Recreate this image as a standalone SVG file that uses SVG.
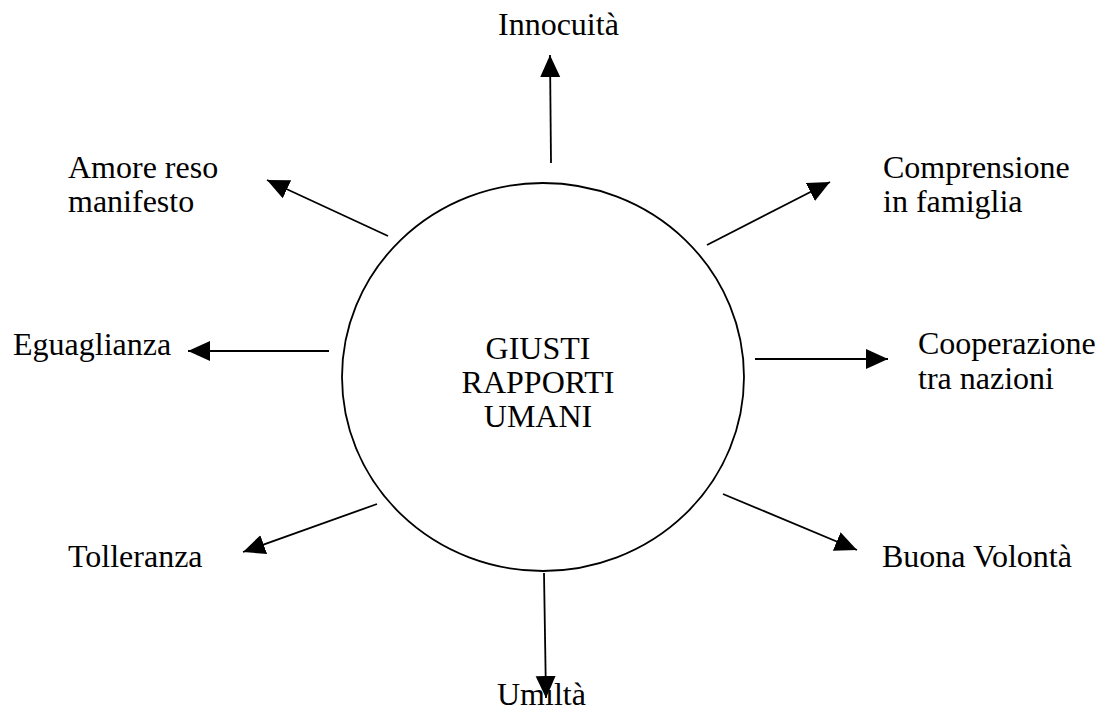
<svg xmlns="http://www.w3.org/2000/svg" width="1099" height="713" viewBox="0 0 1099 713">
<style>
text{font-family:"Liberation Serif","Times New Roman",serif;font-size:32px;fill:#000}
.c{stroke:#000;stroke-width:1.8;fill:none}
.a{stroke:#000;stroke-width:1.8;fill:none;marker-end:url(#ah)}
</style>
<defs>
<marker id="ah" markerUnits="userSpaceOnUse" markerWidth="24" markerHeight="22" refX="22" refY="10" orient="auto" viewBox="0 0 24 22">
<path d="M0,0 L22,10 L0,20 Z" fill="#000"/>
</marker>
</defs>
<rect width="1099" height="713" fill="#fff"/>
<g id="center">
<ellipse class="c" cx="543" cy="377" rx="201" ry="194"/>
<text x="538" y="359" text-anchor="middle">GIUSTI</text>
<text x="538" y="393" text-anchor="middle">RAPPORTI</text>
<text x="538" y="427" text-anchor="middle">UMANI</text>
</g>
<g id="connectors">
<line class="a" x1="551" y1="163" x2="550" y2="55"/>
<line class="a" x1="388" y1="236" x2="267" y2="180"/>
<line class="a" x1="707" y1="245" x2="830" y2="182"/>
<line class="a" x1="329" y1="351" x2="188" y2="351"/>
<line class="a" x1="755" y1="359" x2="888" y2="359"/>
<line class="a" x1="377" y1="504" x2="243" y2="552"/>
<line class="a" x1="723" y1="494" x2="857" y2="550"/>
<line class="a" x1="544" y1="573" x2="546" y2="698"/>
</g>
<g id="innocuita"><text x="498" y="35">Innocuità</text></g>
<g id="amore"><text x="68" y="178">Amore reso</text><text x="68" y="212">manifesto</text></g>
<g id="comprensione"><text x="883" y="178">Comprensione</text><text x="883" y="212">in famiglia</text></g>
<g id="eguaglianza"><text x="13" y="355">Eguaglianza</text></g>
<g id="cooperazione"><text x="918" y="354">Cooperazione</text><text x="918" y="389">tra nazioni</text></g>
<g id="tolleranza"><text x="68" y="567">Tolleranza</text></g>
<g id="buona"><text x="882" y="567">Buona Volontà</text></g>
<g id="umilta"><text x="497" y="705">Umiltà</text></g>
</svg>
